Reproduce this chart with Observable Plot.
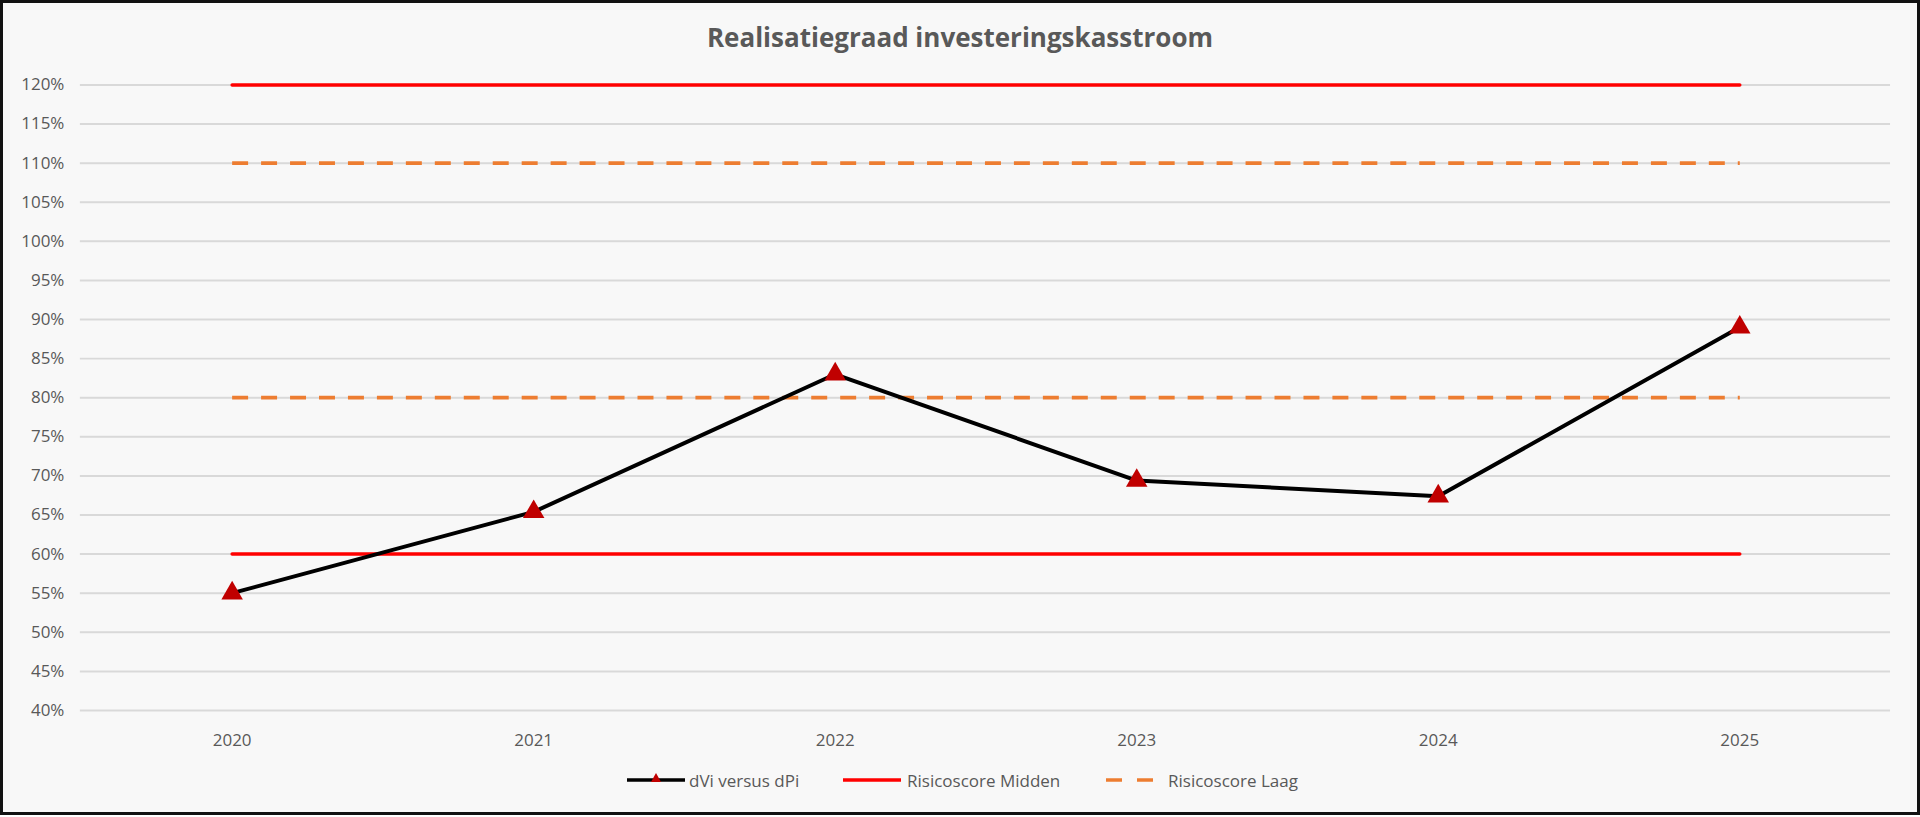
<!DOCTYPE html>
<html>
<head>
<meta charset="utf-8">
<script src="https://cdn.jsdelivr.net/npm/d3@7"></script>
<script src="https://cdn.jsdelivr.net/npm/@observablehq/plot@0.6"></script>
<style>
  html, body { margin: 0; padding: 0; background: #ffffff; }
  #frame {
    position: relative; width: 1920px; height: 815px; box-sizing: border-box;
    border: 3px solid #111; background: #f8f8f8; overflow: hidden;
    font-family: "Open Sans", sans-serif; color: #595959;
  }
  #title {
    position: absolute; left: 0; right: 0; top: 16px; text-align: center;
    font-size: 26px; font-weight: 700; color: #595959; line-height: 36px;
  }
  #chart { position: absolute; left: -3px; top: 57px; }
  .leg { position: absolute; top: 765px; height: 24px; display: flex; align-items: center; font-size: 17px; color: #595959; white-space: nowrap; }
  .leg svg { display: block; }
</style>
</head>
<body>
<div id="frame">
  <div id="title">Realisatiegraad investeringskasstroom</div>
  <div id="chart"></div>
  <div class="leg" style="left:622px">
    <svg width="62" height="24"><line x1="2" x2="60" y1="12" y2="12" stroke="#000" stroke-width="3.5"/><path d="M31,5 L36,14 L26,14 Z" fill="#c00000"/></svg>
  </div>
  <div class="leg" style="left:686px" id="l1"></div>
  <div class="leg" style="left:839px">
    <svg width="60" height="24"><line x1="1" x2="59" y1="12" y2="12" stroke="#ff0000" stroke-width="3.5"/></svg>
  </div>
  <div class="leg" style="left:904px" id="l2"></div>
  <div class="leg" style="left:1100px">
    <svg width="52" height="24"><line x1="3" x2="50" y1="12" y2="12" stroke="#ed7d31" stroke-width="3.5" stroke-dasharray="16,15"/></svg>
  </div>
  <div class="leg" style="left:1165px" id="l3"></div>
</div>
<script>
// ---- data ----
const years = ["2020", "2021", "2022", "2023", "2024", "2025"];
const dviVersusDpi = [0.55, 0.654, 0.83, 0.694, 0.674, 0.89];
const midUpper = [1.2, 1.2, 1.2, 1.2, 1.2, 1.2];
const midLower = [0.6, 0.6, 0.6, 0.6, 0.6, 0.6];
const laagUpper = [1.1, 1.1, 1.1, 1.1, 1.1, 1.1];
const laagLower = [0.8, 0.8, 0.8, 0.8, 0.8, 0.8];
const yTicks = [0.4, 0.45, 0.5, 0.55, 0.6, 0.65, 0.7, 0.75, 0.8, 0.85, 0.9, 0.95, 1.0, 1.05, 1.1, 1.15, 1.2];
const seriesNames = ["dVi versus dPi", "Risicoscore Midden", "Risicoscore Laag"];

document.getElementById("l1").textContent = seriesNames[0];
document.getElementById("l2").textContent = seriesNames[1];
document.getElementById("l3").textContent = seriesNames[2];

const rows = (vals) => years.map((y, i) => ({year: y, value: vals[i]}));
const dvi = rows(dviVersusDpi);

const chart = Plot.plot({
  width: 1920,
  height: 720,
  marginLeft: 80,
  marginRight: 27,
  marginTop: 24.5,
  marginBottom: 69,
  style: {background: "transparent", fontFamily: "Open Sans, sans-serif", fontSize: "17px", color: "#595959"},
  x: {type: "point", domain: years, padding: 0.5, label: null},
  y: {domain: [0.4, 1.2], label: null},
  marks: [
    Plot.gridY(yTicks, {stroke: "#d9d9d9", strokeOpacity: 1, strokeWidth: 2}),
    Plot.axisY(yTicks, {tickSize: 0, tickPadding: 16, tickFormat: d3.format(".0%"), fill: "#595959", label: null}),
    Plot.axisX({tickSize: 0, tickPadding: 23, fill: "#595959", label: null}),
    Plot.line(rows(laagUpper), {x: "year", y: "value", stroke: "#ed7d31", strokeWidth: 3.8, strokeDasharray: "16,13", strokeLinecap: "butt"}),
    Plot.line(rows(laagLower), {x: "year", y: "value", stroke: "#ed7d31", strokeWidth: 3.8, strokeDasharray: "16,13", strokeLinecap: "butt"}),
    Plot.line(rows(midUpper), {x: "year", y: "value", stroke: "#ff0000", strokeWidth: 3.5}),
    Plot.line(rows(midLower), {x: "year", y: "value", stroke: "#ff0000", strokeWidth: 3.5}),
    Plot.line(dvi, {x: "year", y: "value", stroke: "#000000", strokeWidth: 4}),
    Plot.dot(dvi, {x: "year", y: "value", symbol: "triangle", r: 8, fill: "#c00000", stroke: null})
  ]
});
document.getElementById("chart").appendChild(chart);
</script>
</body>
</html>
